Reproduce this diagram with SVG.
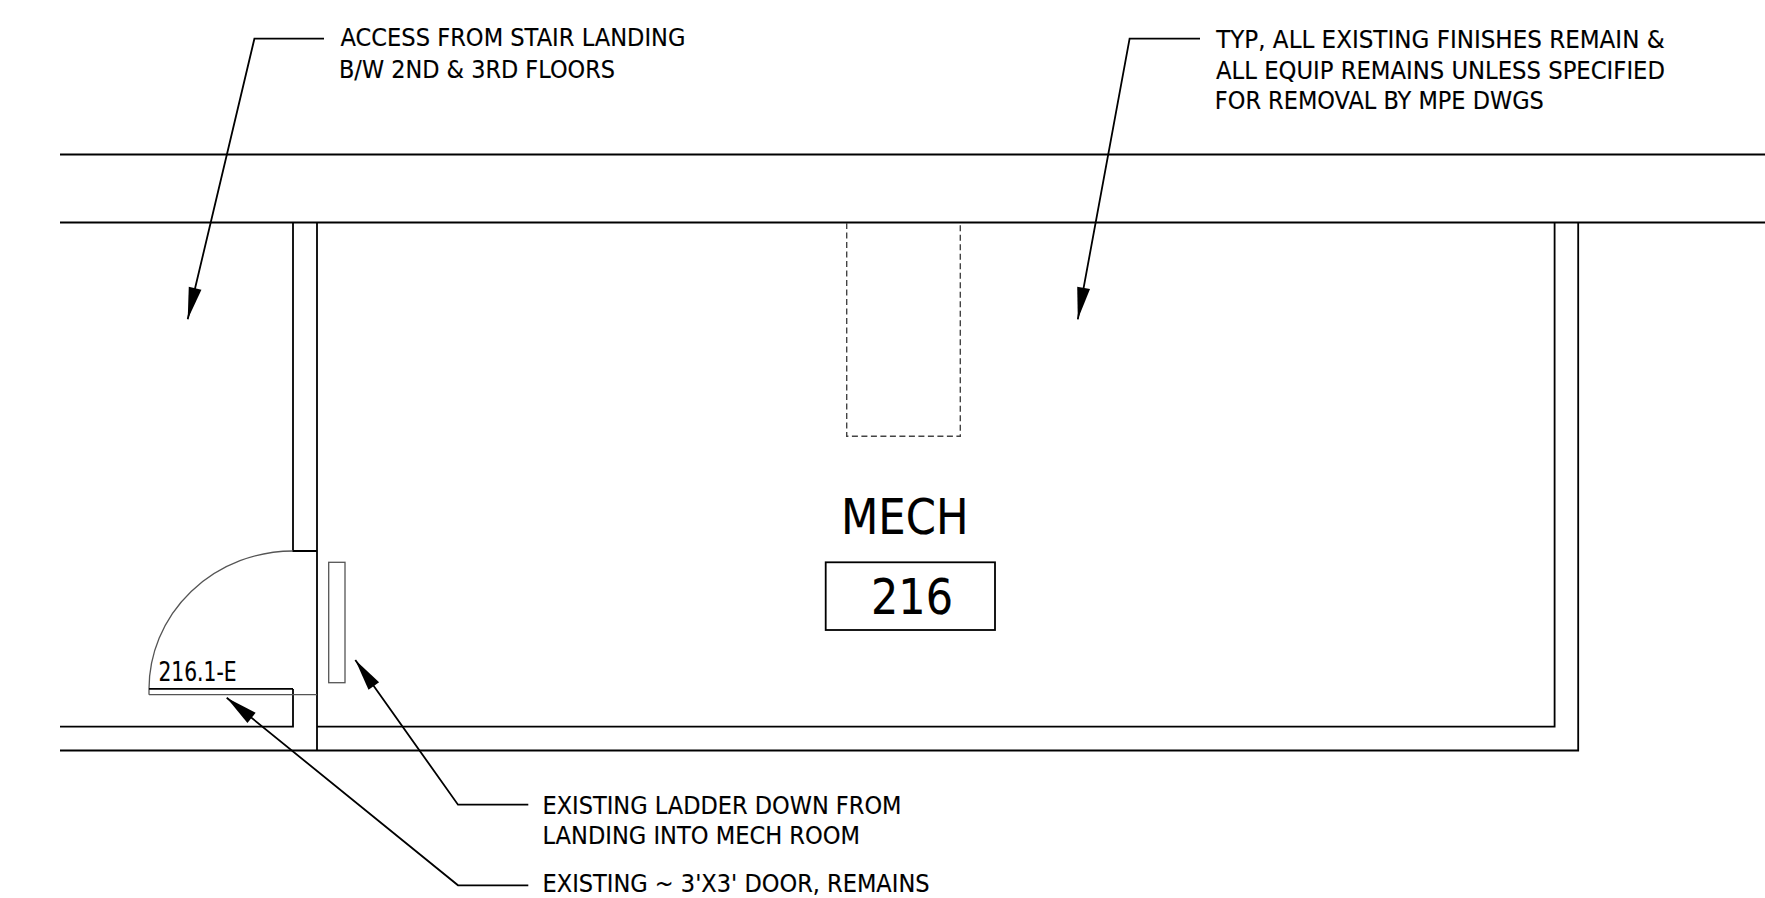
<svg xmlns="http://www.w3.org/2000/svg" width="1765" height="898" viewBox="0 0 1765 898">
<defs>
<marker id="head" markerUnits="userSpaceOnUse" markerWidth="34" markerHeight="16" refX="33" refY="8" orient="auto"><path d="M1 1.5 L33 8 L1 14.5 Z" fill="#000"/></marker>
</defs>
<style>
.w{fill:none;stroke:#000;stroke-width:1.8}
.t{fill:none;stroke:#555;stroke-width:1.3}
.d{fill:none;stroke:#444;stroke-width:1.4;stroke-dasharray:6 3.5}
.l{fill:none;stroke:#000;stroke-width:1.8;marker-end:url(#head)}
text{font-family:"DejaVu Sans","Liberation Sans",sans-serif;fill:#000;stroke:#000;stroke-width:.15;font-size:24px}
</style>
<rect width="1765" height="898" fill="#fff"/>
<g id="walls">
<path class="w" d="M60 154.5H1765M60 222.5H1765M293 222.5V551H317M317 222.5V750.5M60 726.7H293V689M317 726.7H1554.6V222.5M60 750.5H1578.2V222.5"/>
</g>
<g id="shaft"><path class="d" d="M846.7 223V436.3H960.3V223"/></g>
<g id="door">
<path class="t" d="M149 689A144 138 0 0 1 293 551M149 694.7V688.8M149 694.7H293M293 694.7H317"/>
<path class="w" d="M149 688.8H293"/>
<text x="158.5" y="681" style="font-size:27px" textLength="78" lengthAdjust="spacingAndGlyphs">216.1-E</text>
</g>
<g id="ladder"><rect class="t" x="328.7" y="562.3" width="16.3" height="120.4"/></g>
<g id="room">
<text x="841" y="534" style="font-size:49px" textLength="127.5" lengthAdjust="spacingAndGlyphs">MECH</text>
<rect class="w" x="825.7" y="562.3" width="169.3" height="67.7"/>
<text x="871" y="613.5" style="font-size:50px" textLength="82" lengthAdjust="spacingAndGlyphs">216</text>
</g>
<g id="connectors">
<polyline class="l" points="324,38.7 254.4,38.7 187.7,319.3"/>
<polyline class="l" points="1200,38.7 1129.6,38.7 1077.8,319.3"/>
<polyline class="l" points="528.3,804.7 458,804.7 355.3,660"/>
<polyline class="l" points="528.3,885.3 458,885.3 226.7,697.7"/>
</g>
<g id="note-access">
<text x="340.5" y="46.2" textLength="345" lengthAdjust="spacingAndGlyphs">ACCESS FROM STAIR LANDING</text>
<text x="339" y="77.8" textLength="276" lengthAdjust="spacingAndGlyphs">B/W 2ND &amp; 3RD FLOORS</text>
</g>
<g id="note-typ">
<text x="1216.2" y="48.2" textLength="448.5" lengthAdjust="spacingAndGlyphs">TYP, ALL EXISTING FINISHES REMAIN &amp;</text>
<text x="1216" y="78.8" textLength="449" lengthAdjust="spacingAndGlyphs">ALL EQUIP REMAINS UNLESS SPECIFIED</text>
<text x="1214.8" y="109" textLength="329" lengthAdjust="spacingAndGlyphs">FOR REMOVAL BY MPE DWGS</text>
</g>
<g id="note-ladder">
<text x="542.5" y="814.3" textLength="359" lengthAdjust="spacingAndGlyphs">EXISTING LADDER DOWN FROM</text>
<text x="542.5" y="844.3" textLength="317.5" lengthAdjust="spacingAndGlyphs">LANDING INTO MECH ROOM</text>
</g>
<g id="note-door">
<text x="542.5" y="892.2" textLength="387" lengthAdjust="spacingAndGlyphs">EXISTING ~ 3'X3' DOOR, REMAINS</text>
</g>
</svg>
